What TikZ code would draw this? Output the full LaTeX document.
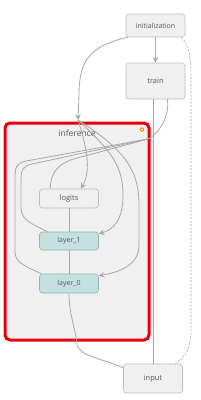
\documentclass[tikz,border=0pt]{standalone}
\usepackage{fontspec}
\setmainfont{Open Sans}
\usetikzlibrary{arrows.meta, positioning, backgrounds}
\definecolor{tbgray}{HTML}{F0F0F0}
\definecolor{tbedge}{HTML}{A8A8A8}
\definecolor{tbborder}{HTML}{BDBDBD}
\definecolor{tbteal}{HTML}{C4E0E1}
\definecolor{tbtealb}{HTML}{8FB5B7}
\definecolor{tbred}{HTML}{E8000B}
\definecolor{tbtext}{HTML}{555555}
\definecolor{tborange}{HTML}{F39C12}

\begin{document}
\begin{tikzpicture}[
    x=1pt, y=-1pt,
    font=\fontsize{7}{8}\selectfont,
    box/.style={draw=tbborder, fill=tbgray, rounded corners=3pt, minimum width=59pt, text=tbtext, inner sep=0pt, line width=0.6pt},
    opbox/.style={box, fill=tbteal, draw=tbtealb},
    grpbox/.style={draw=tbred, fill=tbgray, line width=3pt, rounded corners=5pt, inner sep=0pt},
    link/.style={draw=tbedge, line width=0.8pt},
    arr/.style={link, -{Stealth[length=5.5pt, width=5.5pt]}},
]
\useasboundingbox (0,0) rectangle (201,400);
\fill[white] (0,0) rectangle (201,400);

% inference group
\node[grpbox, minimum width=144pt, minimum height=217pt] (inf) at (77,231.5) {};
\node[text=tbtext, font=\fontsize{8.5}{9}\selectfont] (inflabel) at (77,133) {inference};
\node[circle, fill=tborange, minimum size=4.5pt, inner sep=0pt] (infbtn) at (142,129.5) {};
\draw[white, line width=0.6pt] ([xshift=-1.3pt]infbtn.center) -- ([xshift=1.3pt]infbtn.center);

% nodes
\node[box, minimum height=23pt] (init) at (155.5,25.5) {initialization};
\node[box, minimum height=36pt, font=\fontsize{7.5}{8}\selectfont] (train) at (155.5,81) {train};
\node[box, minimum height=19pt, font=\fontsize{7.5}{8}\selectfont] (logits) at (69,198.5) {logits};
\node[opbox, minimum height=18pt] (layer1) at (69,241) {layer\_1};
\node[opbox, minimum height=19pt] (layer0) at (69,283.5) {layer\_0};
\node[box, minimum height=29pt, font=\fontsize{7.5}{8}\selectfont] (input) at (153,378.5) {input};

\coordinate (infin) at (78,120);
\coordinate (gin) at (148,139);

% edges
\draw[arr, line width=1.4pt] (init) -- (train);
\draw[arr] ([xshift=2pt]init.south west) .. controls (90,46) and (79,60) .. (79,95) -- (infin);
\draw[arr] (infin) .. controls (86,145) and (92,170) .. ([xshift=-18pt]logits.north east);
\draw[arr] (infin) .. controls (110,150) and (123,165) .. (123,195) .. controls (123,222) and (112,230) .. ([yshift=-2pt]layer1.north east);
\draw[arr] (infin) .. controls (125,150) and (139,170) .. (139,205) -- (139,245) .. controls (139,265) and (120,272) .. ([yshift=-2pt]layer0.north east);

\draw[link] ([xshift=-18pt]train.south east) .. controls (170,115) and (160,133) .. (gin);
\draw[link] (gin) -- (85,156) .. controls (62,161) and (51,168) .. ([xshift=11pt]logits.north west);
\draw[link] (gin) -- (32,164) .. controls (23,166) and (21,170) .. (21,180) -- (21,208) .. controls (21,222) and (38,226) .. ([xshift=8pt]layer1.north west);
\draw[link] (gin) -- (26,161) .. controls (16,163) and (15,168) .. (15,178) -- (15,252) .. controls (15,264) and (30,268) .. ([xshift=2pt]layer0.north west);

\draw[link] (logits) -- (layer1);
\draw[link] (layer1) -- (layer0);
\draw[link] (layer0.south) .. controls (69,315) and (76,330) .. (77,345) .. controls (80,356) and (100,358) .. ([yshift=-4pt]input.north west);
\draw[link] (input.north) -- (input.north |- train.south);
\draw[link, line width=0.6pt, dash pattern=on 2pt off 1.5pt] ([xshift=-4pt]init.south east) .. controls (189,45) and (191,55) .. (191,80) -- (191,330) .. controls (191,352) and (182,360) .. ([xshift=-8pt]input.north east);

\end{tikzpicture}
\end{document}
